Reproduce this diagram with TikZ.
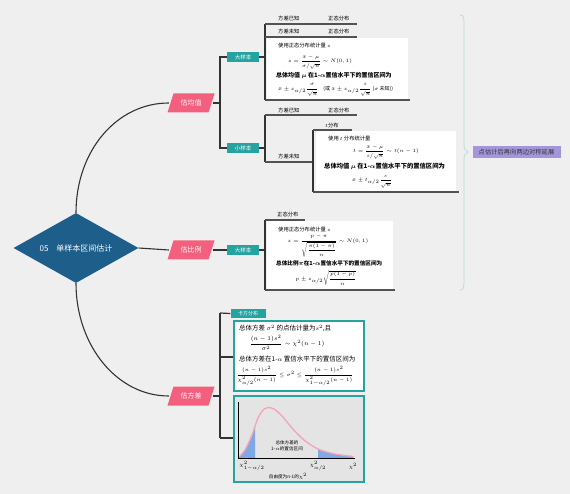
\documentclass[tikz,border=0pt]{standalone}
\usepackage{fontspec}
\setmainfont{Noto Sans CJK SC}
\usepackage{amsmath}
\usetikzlibrary{shapes.geometric,calc}
\definecolor{bgc}{HTML}{EFEFEF}
\definecolor{dblue}{HTML}{1D5E8A}
\definecolor{pinkc}{HTML}{F2607E}
\definecolor{tealc}{HTML}{25A3A0}
\definecolor{purp}{HTML}{A596DC}
\definecolor{linec}{HTML}{333333}
\definecolor{bracec}{HTML}{BFE0DA}
\definecolor{curvec}{HTML}{F5A3B5}
\definecolor{shadec}{HTML}{7FA8E8}
\definecolor{chartbg}{HTML}{E4E4E4}
\newcommand\fsz[1]{\fontsize{#1}{#1}\selectfont}
\newcommand\paraback[2]{\fill[pinkc] (#1-23.5,#2+9.5) -- (#1+17.5,#2+9.5) -- (#1+23.5,#2-9.5) -- (#1-17.5,#2-9.5) -- cycle;}
\tikzset{
  conn/.style={draw=linec, line width=1.1pt},
  brk/.style={draw=linec, line width=1.2pt},
  uline/.style={draw=linec!85, line width=1.3pt},
  root/.style={diamond, aspect=1.8, fill=dblue, text=white, minimum width=125pt, minimum height=70pt, inner sep=0pt, font=\fsz{8}},
  lvl1/.style={rectangle, text=white, minimum width=44pt, minimum height=19pt, inner sep=0pt, font=\fsz{7}},
  tag/.style={rectangle, fill=tealc, text=white, minimum width=32pt, minimum height=10pt, inner sep=0pt, font=\fsz{5.5}},
  txt/.style={anchor=west, inner sep=0pt, font=\fsz{5.3}},
  btxt/.style={anchor=west, inner sep=0pt, font=\fsz{6}\bfseries},
  fml/.style={inner sep=0pt, font=\fsz{5}},
  vtxt/.style={anchor=west, inner sep=0pt, font=\fsz{6.5}},
  tbox/.style={draw=tealc, line width=2.5pt},
}
\begin{document}
\begin{tikzpicture}[x=1pt,y=-1pt]
\fill[bgc] (0,0) rectangle (570,494);
\useasboundingbox (0,0) rectangle (570,494);

% root and level-1 nodes
\node[root] (root) at (76,248) {05\quad 单样本区间估计};
\paraback{191}{103}
\paraback{191}{250}
\paraback{191}{396}
\node[lvl1] (gjz) at (191,103) {估均值};
\node[lvl1] (gbl) at (191,250) {估比例};
\node[lvl1] (gfc) at (191,396) {估方差};

\draw[conn] (root.north) .. controls +(0,-62) and +(-52,0) .. (gjz.west);
\draw[conn] (root.east) -- (gbl.west);
\draw[conn] (root.south) .. controls +(0,62) and +(-52,0) .. (gfc.west);

% ---------- mean branch ----------
\node[tag] (dy1) at (243,57) {大样本};
\node[tag] (xy1) at (243,148) {小样本};
\coordinate (j1) at (220,103);
\draw[brk] (gjz.east) -- (j1);
\draw[brk] (dy1.west) -| (j1);
\draw[brk] (j1) |- (xy1.west);

% large sample leaves
\coordinate (b1t) at (265,24);
\coordinate (b1b) at (265,100);
\draw[brk] (dy1.east) -- (dy1.east -| b1t);
\draw[brk] (b1t) -- (b1b);
\node[txt] (t11) at (278,18) {方差已知};
\node[txt] (t12) at (328,18) {正态分布};
\draw[uline] (b1t) -- (357,24);
\node[txt] (t13) at (278,31) {方差未知};
\node[txt] (t14) at (328,31) {正态分布};
\draw[uline] (265,37) -- (357,37);
\fill[white] (267,38.5) rectangle (408,99);
\draw[uline] (b1b) -- (410,100);
\node[txt] (m1) at (278,45.5) {使用正态分布统计量 $z$};
\node[fml] (m2) at (320,62) {$z=\dfrac{\bar{x}-\mu}{\sigma/\sqrt{n}}\sim N(0,1)$};
\node[btxt] (m3) at (276,76) {总体均值 $\boldsymbol{\mu}$ 在1-$\boldsymbol{\alpha}$置信水平下的置信区间为};
\node[fml,anchor=west] (m4) at (278,90) {$\bar{x}\pm z_{\alpha/2}\dfrac{\sigma}{\sqrt{n}}$\quad (或 $\bar{x}\pm z_{\alpha/2}\dfrac{s}{\sqrt{n}}$ ($\sigma$ 未知))};

% small sample leaves
\coordinate (b2t) at (265,115);
\coordinate (b2b) at (265,162);
\draw[brk] (xy1.east) -- (xy1.east -| b2t);
\draw[brk] (b2t) -- (b2b);
\node[txt] (s11) at (278,110) {方差已知};
\node[txt] (s12) at (328,110) {正态分布};
\draw[uline] (b2t) -- (357,115);
\node[txt] (s13) at (278,156) {方差未知};
\coordinate (b3t) at (313,130);
\coordinate (b3b) at (313,192);
\draw[uline] (b2b) -- (313,162);
\draw[brk] (b3t) -- (b3b);
\node[txt] (s14) at (325,125) {$t$分布};
\draw[uline] (b3t) -- (352,130);
\fill[white] (316,131.5) rectangle (456,191);
\draw[uline] (b3b) -- (459,192);
\node[txt] (n1) at (328,138) {使用 $t$ 分布统计量};
\node[fml] (n2) at (386,152) {$t=\dfrac{\bar{x}-\mu}{s/\sqrt{n}}\sim t(n-1)$};
\node[btxt,font=\fsz{6.3}\bfseries] (n3) at (324,166) {总体均值 $\boldsymbol{\mu}$ 在1-$\boldsymbol{\alpha}$置信水平下的置信区间为};
\node[fml] (n4) at (372,181.5) {$\bar{x}\pm t_{\alpha/2}\dfrac{s}{\sqrt{n}}$};

% ---------- proportion branch ----------
\node[tag] (dy2) at (243,250) {大样本};
\draw[brk] (gbl.east) -- (dy2.west);
\coordinate (b4t) at (265,220);
\coordinate (b4b) at (265,290);
\draw[brk] (dy2.east) -- (dy2.east -| b4t);
\draw[brk] (b4t) -- (b4b);
\node[txt] (p0) at (277,214) {正态分布};
\draw[uline] (b4t) -- (305,220);
\fill[white] (267,221.5) rectangle (393,289);
\draw[uline] (b4b) -- (395,290);
\node[txt] (p1) at (278,229) {使用正态分布统计量 $z$};
\node[fml] (p2) at (328,246) {$z=\dfrac{p-\pi}{\sqrt{\dfrac{\pi(1-\pi)}{n}}}\sim N(0,1)$};
\node[btxt,font=\fsz{5.6}\bfseries] (p3) at (276,263) {总体比例$\boldsymbol{\pi}$在1-$\boldsymbol{\alpha}$置信水平下的置信区间为};
\node[fml] (p4) at (326,278) {$p\pm z_{\alpha/2}\sqrt{\dfrac{p(1-p)}{n}}$};

% ---------- variance branch ----------
\coordinate (j2) at (220,396);
\coordinate (j2t) at (220,313);
\coordinate (j2b) at (220,438);
\draw[brk] (gfc.east) -- (j2);
\draw[brk] (j2t) -- (j2b);
\node[tag,minimum width=35pt,minimum height=9pt,font=\fsz{5}] (kf) at (248,313.5) {卡方分布};
\draw[brk] (j2t) -- (kf.west);
\draw[tbox,fill=white] (234,321) rectangle (364,391);
\coordinate (vb1) at (232.8,357);
\draw[brk] (220,357) -- (vb1);
\node[vtxt] (v1) at (239,328.5) {总体方差 $\sigma^2$ 的点估计量为$s^2$,且};
\node[fml,font=\fsz{6}] (v2) at (287,343) {$\dfrac{(n-1)s^2}{\sigma^2}\sim\chi^2(n-1)$};
\node[vtxt] (v3) at (239,359) {总体方差在1-$\alpha$ 置信水平下的置信区间为};
\node[fml,font=\fsz{5.4}] (v4) at (295,376) {$\dfrac{(n-1)s^2}{\chi^2_{\alpha/2}(n-1)}\le\sigma^2\le\dfrac{(n-1)s^2}{\chi^2_{1-\alpha/2}(n-1)}$};

% chart box
\draw[tbox,fill=chartbg] (234,396) rectangle (364,482);
\coordinate (vb2) at (232.8,438);
\draw[brk] (j2b) -- (vb2);
\def\chicurve{(239,457) (245,450) (252,435) (258,418) (264,409) (268,407.5) (274,409) (282,416) (292,428) (304,440) (318,449) (335,454) (353,456.5)}
\begin{scope}
  \clip (239,400) rectangle (255,458);
  \fill[shadec] plot[smooth] coordinates {\chicurve} -- (353,458) -- (239,458) -- cycle;
\end{scope}
\begin{scope}
  \clip (318,400) rectangle (354,458);
  \fill[shadec] plot[smooth] coordinates {\chicurve} -- (353,458) -- (239,458) -- cycle;
\end{scope}
\draw[curvec, line width=1.3pt] plot[smooth] coordinates {\chicurve};
\draw[black, line width=0.6pt] (238,402) -- (238,458) -- (355,458);
\node[inner sep=0pt, align=center, font=\fsz{4.6}] (c1) at (287,445.5) {总体方差的\\[1pt]1-$\alpha$的置信区间};
\node[fml,font=\fsz{5.5}] (c2) at (252,466) {$\chi^2_{1-\alpha/2}$};
\node[fml,font=\fsz{5.5}] (c3) at (318,466) {$\chi^2_{\alpha/2}$};
\node[fml,font=\fsz{5.5}] (c4) at (353,466) {$\chi^2$};
\node[inner sep=0pt, font=\fsz{4.6}] (c5) at (288,476) {自由度为n-1的$\chi^2$};

% ---------- summary brace ----------
\draw[bracec, line width=0.9pt] (460,15) .. controls (464,15) and (464,18) .. (464,26) -- (464,144) .. controls (464,149) and (465,151) .. (468,152) .. controls (465,153) and (464,155) .. (464,160) -- (464,279) .. controls (464,287) and (464,290) .. (460,290);
\node[fill=purp, text=linec, minimum width=88pt, minimum height=12pt, inner sep=1pt, font=\fsz{6.3}] (sum) at (516.5,152) {点估计后再向两边对称延展};
\end{tikzpicture}
\end{document}
